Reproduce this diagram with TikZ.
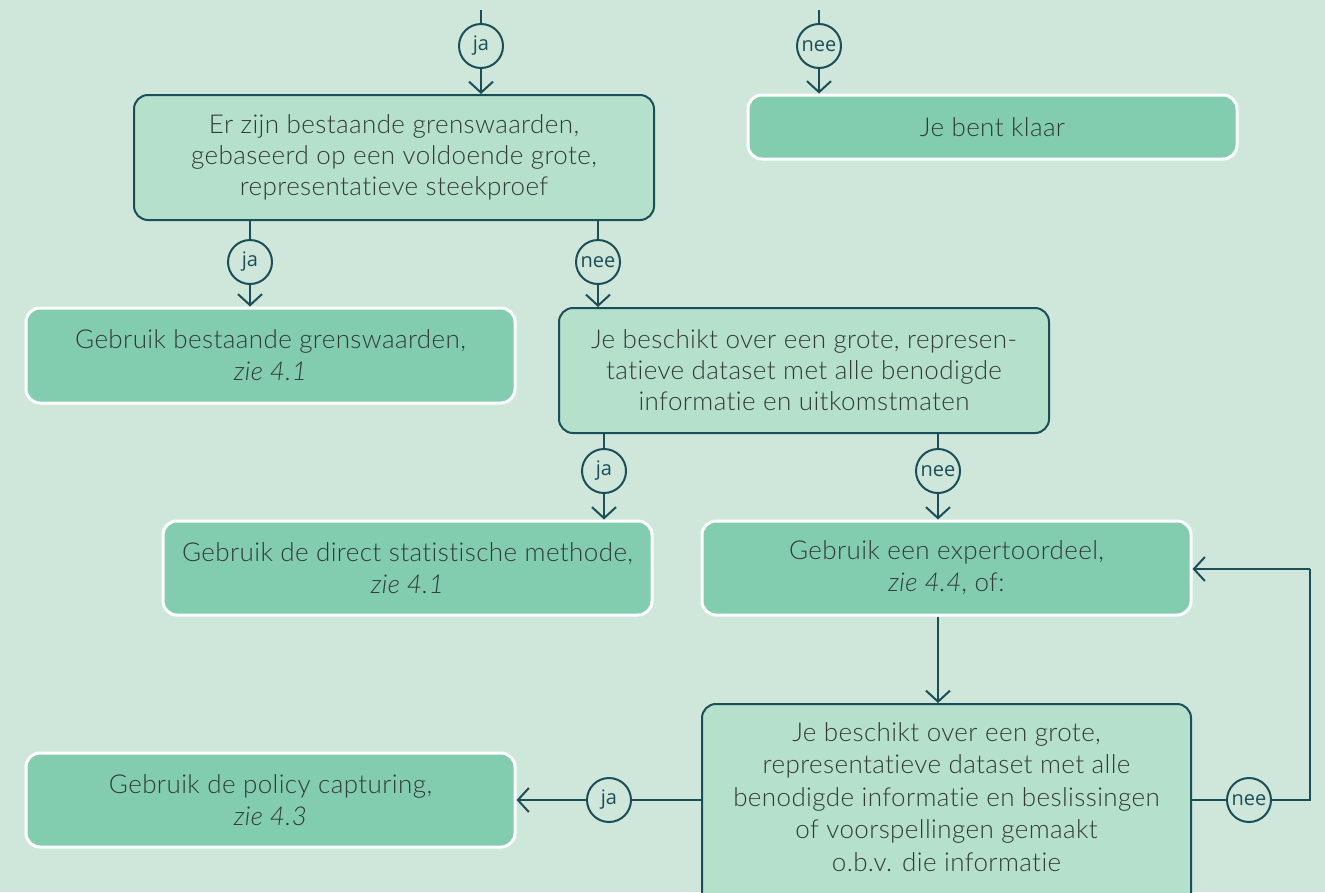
\documentclass[tikz,border=0pt]{standalone}
\usepackage{fontspec}
\setmainfont{Lato}[UprightFont=* Light, ItalicFont=* Light Italic, Ligatures=NoCommon, LetterSpace=1.5]
\newfontfamily\circfont{Open Sans}
\usetikzlibrary{arrows.meta}
\definecolor{bg}{HTML}{CFE7DB}
\definecolor{dark}{HTML}{1B4F57}
\definecolor{lightfill}{HTML}{B4E0CC}
\definecolor{midfill}{HTML}{82CDB0}
\definecolor{txt}{HTML}{333A38}
\tikzset{
  qbox/.style={draw=dark, line width=2pt, fill=lightfill, rounded corners=14pt, align=center,
    text=txt, font=\fontsize{26}{31}\selectfont, inner sep=0pt},
  abox/.style={draw=white, line width=3pt, fill=midfill, rounded corners=14pt, align=center,
    text=txt, font=\fontsize{26}{32}\selectfont, inner sep=0pt},
  lab/.style={circle, draw=dark, line width=2pt, fill=bg, minimum size=44pt, inner sep=0pt,
    text=dark, font=\circfont\fontsize{20}{20}\selectfont},
  conn/.style={draw=dark, line width=2pt},
  arr/.style={conn, -{Straight Barb[length=11pt, width=24pt, line width=2pt]}}
}
\begin{document}
\begin{tikzpicture}[x=1pt, y=-1pt]
\useasboundingbox (0,0) rectangle (1325,892);
\clip (0,0) rectangle (1325,892);
\fill[bg] (0,0) rectangle (1325,892);

% boxes
\node[qbox, minimum width=520pt, minimum height=125pt] (A) at (394,157.5)
  {Er zijn bestaande grenswaarden,\\ gebaseerd op een voldoende grote,\\ representatieve steekproef};
\node[abox, minimum width=489pt, minimum height=64pt] (K) at (992.5,127) {Je bent klaar};
\node[abox, minimum width=489pt, minimum height=95pt] (G1) at (270.5,355.5)
  {Gebruik bestaande grenswaarden,\\ \textit{zie 4.1}};
\node[qbox, minimum width=490pt, minimum height=125pt] (B) at (804,370.5)
  {Je beschikt over een grote, represen-\\ tatieve dataset met alle benodigde\\ informatie en uitkomstmaten};
\node[abox, minimum width=489pt, minimum height=94pt] (G2) at (407.5,568)
  {Gebruik de direct statistische methode,\\ \textit{zie 4.1}};
\node[abox, minimum width=489pt, minimum height=94pt] (G3) at (946.5,568)
  {Gebruik een expertoordeel,\\ \textit{zie 4.4}, of:};
\node[qbox, minimum width=489pt, minimum height=216pt, anchor=north] (C) at (946.5,703) {};
\node[text=txt, align=center, font=\fontsize{26}{32.5}\selectfont, anchor=north] (Ct) at (946.5,719)
  {Je beschikt over een grote,\\ representatieve dataset met alle\\ benodigde informatie en beslissingen\\ of voorspellingen gemaakt\\ o.b.v. die informatie};
\node[abox, minimum width=489pt, minimum height=94pt] (G4) at (270.5,800)
  {Gebruik de policy capturing,\\ \textit{zie 4.3}};

% labels
\coordinate (t1) at (481,10);
\coordinate (t2) at (819,10);
\node[lab] (j0) at (481,46) {ja};
\node[lab] (n0) at (819,46) {nee};
\node[lab] (j1) at (250,262) {ja};
\node[lab] (n1) at (598,262) {nee};
\node[lab] (j2) at (604,471) {ja};
\node[lab] (n2) at (938,471) {nee};
\node[lab] (j3) at (609,800) {ja};
\node[lab] (n3) at (1249,800) {nee};
\coordinate (corner1) at (1310,800);
\coordinate (corner2) at (1310,569);

% connectors
\draw[conn] (t1) -- (j0);
\draw[arr] (j0) -- (j0 |- A.north);
\draw[conn] (t2) -- (n0);
\draw[arr] (n0) -- (n0 |- K.north);
\draw[conn] (j1 |- A.south) -- (j1);
\draw[arr] (j1) -- (j1 |- G1.north);
\draw[conn] (n1 |- A.south) -- (n1);
\draw[arr] (n1) -- (n1 |- B.north);
\draw[conn] (j2 |- B.south) -- (j2);
\draw[arr] (j2) -- (j2 |- G2.north);
\draw[conn] (n2 |- B.south) -- (n2);
\draw[arr] (n2) -- (n2 |- G3.north);
\draw[arr] (n2 |- G3.south) -- (n2 |- C.north);
\draw[conn] (C.west |- j3) -- (j3);
\draw[arr] (j3) -- (G4.east);
\draw[conn] (C.east |- n3) -- (n3);
\draw[conn] (n3) -- (corner1) -- (corner2);
\draw[arr] (corner2) -- (G3.east |- corner2);
\end{tikzpicture}
\end{document}
